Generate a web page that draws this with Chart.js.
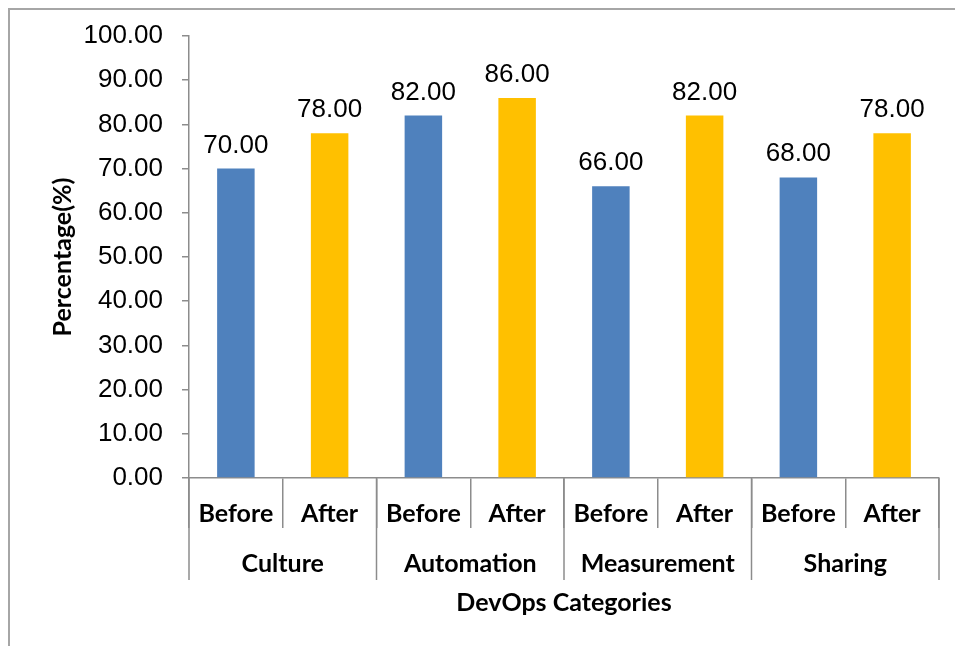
<!DOCTYPE html>
<html>
<head>
<meta charset="utf-8">
<script src="https://cdn.jsdelivr.net/npm/chart.js@4"></script>
<style>
  html, body { margin: 0; padding: 0; background: #fff; }
  #wrap { position: relative; width: 955px; height: 646px; }
  #frame { position: absolute; left: 8px; top: 8px; width: 960px; height: 660px; border: 2px solid #a6a6a6; box-sizing: border-box; }
</style>
</head>
<body>
<div id="wrap">
  <div id="frame"></div>
  <canvas id="devopsChart" width="955" height="646"></canvas>
</div>
<script>
// Data
const groups = ['Culture', 'Automation', 'Measurement', 'Sharing'];
const phases = ['Before', 'After'];
const before = [70, 82, 66, 68];
const after = [78, 86, 82, 78];
const yTicks = [0, 10, 20, 30, 40, 50, 60, 70, 80, 90, 100];

const blue = '#4f81bd';
const gold = '#ffc000';
const axisGrey = '#8c8c8c';
const boldFont = { family: 'Lato', size: 25, weight: 'bold' };

// flatten into one row per bar: Before/After under each group
const labels = [];
const values = [];
const colors = [];
groups.forEach((g, i) => {
  labels.push(phases[0], phases[1]);
  values.push(before[i], after[i]);
  colors.push(blue, gold);
});

// Group labels + long separators under the axis, and value labels
const extrasPlugin = {
  id: 'extras',
  afterDatasetsDraw(chart) {
    const ctx = chart.ctx;
    const meta = chart.getDatasetMeta(0);
    ctx.save();
    ctx.fillStyle = '#000';
    ctx.font = '26px "Liberation Sans", Arial, sans-serif';
    ctx.textAlign = 'center';
    ctx.textBaseline = 'alphabetic';
    meta.data.forEach((bar, i) => {
      ctx.fillText(values[i].toFixed(2), bar.x, bar.y - 16);
    });
    ctx.restore();
  },
  afterDraw(chart) {
    const ctx = chart.ctx;
    const x = chart.scales.x;
    const top = chart.chartArea.bottom;
    const half = (x.getPixelForValue(1) - x.getPixelForValue(0)) / 2;
    ctx.save();
    ctx.strokeStyle = axisGrey;
    ctx.lineWidth = 1.5;
    for (let g = 0; g <= groups.length; g++) {
      const px = g < groups.length ? x.getPixelForValue(g * 2) - half : x.getPixelForValue(g * 2 - 1) + half;
      ctx.beginPath();
      ctx.moveTo(px, top);
      ctx.lineTo(px, top + 102);
      ctx.stroke();
    }
    ctx.fillStyle = '#000';
    ctx.font = 'bold 25px Lato, sans-serif';
    ctx.textAlign = 'center';
    ctx.textBaseline = 'middle';
    groups.forEach((g, i) => {
      const cx = (x.getPixelForValue(i * 2) + x.getPixelForValue(i * 2 + 1)) / 2;
      ctx.fillText(g, cx, top + 86);
    });
    ctx.restore();
  }
};

const data = {
  labels: labels,
  datasets: [{
    label: 'Percentage',
    data: values,
    backgroundColor: colors,
    categoryPercentage: 1,
    barPercentage: 0.4
  }]
};

const options = {
  responsive: false,
  animation: false,
  layout: {
    padding: { left: 30, top: 36, right: 16, bottom: 0 }
  },
  plugins: {
    legend: { display: false },
    tooltip: { enabled: false }
  },
  scales: {
    x: {
      offset: true,
      afterFit: s => { s.height = 646 - 478; },
      border: { color: axisGrey, width: 1.5 },
      grid: {
        offset: true,
        drawOnChartArea: false,
        color: axisGrey,
        lineWidth: 1.5,
        tickLength: 50
      },
      ticks: {
        color: '#000',
        font: boldFont,
        padding: -29,
        maxRotation: 0,
        autoSkip: false
      },
      title: {
        display: true,
        text: 'DevOps Categories',
        color: '#000',
        font: boldFont,
        padding: { top: 0, bottom: 28 }
      }
    },
    y: {
      min: 0,
      max: 100,
      afterFit: s => { s.width = 189 - 30; },
      afterBuildTicks: s => { s.ticks = yTicks.map(v => ({ value: v })); },
      border: { color: axisGrey, width: 1.5 },
      grid: {
        drawOnChartArea: false,
        color: axisGrey,
        lineWidth: 1.5,
        tickLength: 7
      },
      ticks: {
        color: '#000',
        font: { family: '"Liberation Sans", Arial, sans-serif', size: 26 },
        padding: 19,
        callback: v => Number(v).toFixed(2)
      },
      title: {
        display: true,
        text: 'Percentage(%)',
        color: '#000',
        font: boldFont,
        padding: { top: 18, bottom: 0 }
      }
    }
  }
};

const config = {
  type: 'bar',
  data: data,
  options: options,
  plugins: [extrasPlugin]
};

const myChart = new Chart(document.getElementById('devopsChart'), config);
</script>
</body>
</html>
